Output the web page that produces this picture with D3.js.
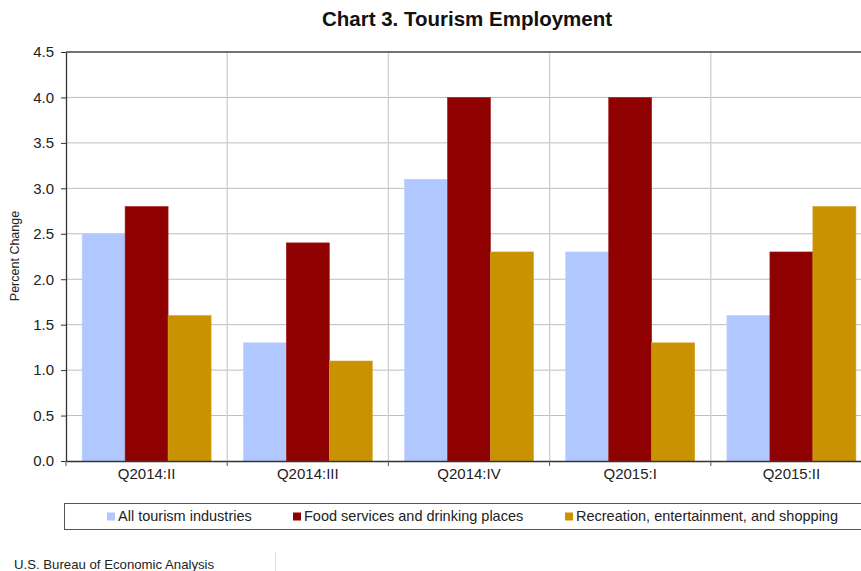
<!DOCTYPE html>
<html><head><meta charset="utf-8">
<script src="https://cdn.jsdelivr.net/npm/d3@7"></script>
<style>body{margin:0;background:#fff;} svg{display:block;font-family:"Liberation Sans",Arial,sans-serif;}</style>
</head><body>
<script>
const categories = ["Q2014:II","Q2014:III","Q2014:IV","Q2015:I","Q2015:II"];
const seriesNames = ["All tourism industries","Food services and drinking places","Recreation, entertainment, and shopping"];
const allTourism = [2.5, 1.3, 3.1, 2.3, 1.6];
const foodServices = [2.8, 2.4, 4.0, 4.0, 2.3];
const recreation = [1.6, 1.1, 2.3, 1.3, 2.8];
const yTicks = [0,0.5,1,1.5,2,2.5,3,3.5,4,4.5];
const colors = ["#b0c8ff","#8f0000","#c89200"];
const strokes = ["#bcd0ff","#a02020","#d4a020"];
const seriesValues = [allTourism, foodServices, recreation];

(function(){
const W=861,H=571;
const svg=d3.select("body").append("svg").attr("width",W).attr("height",H);
const pL=66, pR=872, pT=52, pB=461;
const x=d3.scaleBand().domain(categories).range([pL,pR]).paddingInner(0).paddingOuter(0);
const x1=d3.scaleBand().domain(d3.range(3)).range([0,x.bandwidth()]).paddingOuter(0.375).paddingInner(0);
const y=d3.scaleLinear().domain([0,4.5]).range([pB,pT]);

svg.append("text").attr("x",467).attr("y",26).attr("text-anchor","middle").attr("font-size",20.5).attr("font-weight","bold").attr("fill","#111").text("Chart 3. Tourism Employment");

svg.append("g").selectAll("line").data(yTicks.filter(d=>d>0&&d<4.5)).join("line")
 .attr("x1",pL).attr("x2",pR).attr("y1",d=>y(d)).attr("y2",d=>y(d)).attr("stroke","#bdbdbd").attr("stroke-width",1);
svg.append("g").selectAll("line").data(categories.slice(1)).join("line")
 .attr("x1",d=>x(d)).attr("x2",d=>x(d)).attr("y1",pT).attr("y2",pB).attr("stroke","#cfcfcf").attr("stroke-width",1.3);

const g=svg.append("g");
seriesValues.forEach((vals,si)=>{
  g.selectAll(null).data(vals).join("rect")
   .attr("x",(d,i)=>x(categories[i])+x1(si)).attr("width",x1.bandwidth())
   .attr("y",d=>y(d)).attr("height",d=>y(0)-y(d))
   .attr("fill",colors[si]).attr("stroke",strokes[si]).attr("stroke-width",0.6);
});

svg.append("line").attr("x1",pL).attr("x2",pR).attr("y1",pT).attr("y2",pT).attr("stroke","#444").attr("stroke-width",1.3);

const ya=svg.append("g").attr("transform",`translate(${pL},0)`).call(d3.axisLeft(y).tickValues(yTicks).tickFormat(d3.format(".1f")).tickSize(5).tickPadding(7).tickSizeOuter(0));
ya.select(".domain").attr("stroke","#333").attr("stroke-width",1.3);
ya.selectAll(".tick line").attr("stroke","#333");
ya.selectAll("text").attr("font-size",15).attr("fill","#222").attr("font-family","Liberation Sans, Arial, sans-serif");

const xa=svg.append("g").attr("transform",`translate(0,${pB})`).call(d3.axisBottom(x).tickSize(0).tickPadding(7).tickSizeOuter(0));
xa.select(".domain").attr("stroke","#333").attr("stroke-width",1.3);
xa.selectAll("text").attr("font-size",15).attr("fill","#222").attr("font-family","Liberation Sans, Arial, sans-serif");
svg.append("g").selectAll("line").data(categories).join("line")
 .attr("x1",d=>x(d)).attr("x2",d=>x(d)).attr("y1",pB).attr("y2",pB+5).attr("stroke","#555");

svg.append("text").attr("transform","translate(19,256) rotate(-90)").attr("text-anchor","middle").attr("font-size",12.5).attr("fill","#222").text("Percent Change");

svg.append("rect").attr("x",64.5).attr("y",503.5).attr("width",820).attr("height",26).attr("fill","none").attr("stroke","#555").attr("stroke-width",1);
const legX=[107,293,565];
seriesNames.forEach((n,i)=>{
  svg.append("rect").attr("x",legX[i]).attr("y",512.5).attr("width",8).attr("height",8).attr("fill",colors[i]);
  svg.append("text").attr("x",legX[i]+11).attr("y",521).attr("font-size",14.5).attr("fill","#222").text(n);
});

svg.append("text").attr("x",14).attr("y",568.5).attr("font-size",13.2).attr("fill","#222").text("U.S. Bureau of Economic Analysis");
svg.append("line").attr("x1",275.5).attr("x2",275.5).attr("y1",552).attr("y2",571).attr("stroke","#ddd");
})();
</script>
</body></html>
